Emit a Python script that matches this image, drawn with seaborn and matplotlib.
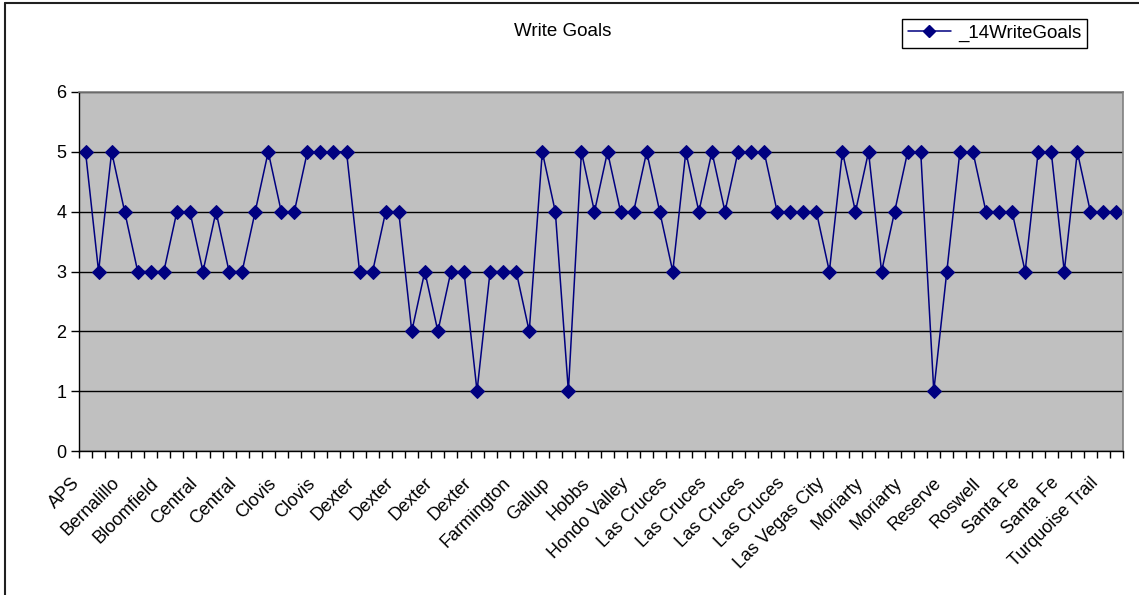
import matplotlib
matplotlib.use("Agg")
import matplotlib.pyplot as plt
from matplotlib.lines import Line2D
from matplotlib.transforms import ScaledTranslation
import pandas as pd
import seaborn as sns

# Write goals scores, one per school (80 rows)
scores = [5, 3, 5, 4, 3, 3, 3, 4, 4, 3,
          4, 3, 3, 4, 5, 4, 4, 5, 5, 5,
          5, 3, 3, 4, 4, 2, 3, 2, 3, 3,
          1, 3, 3, 3, 2, 5, 4, 1, 5, 4,
          5, 4, 4, 5, 4, 3, 5, 4, 5, 4,
          5, 5, 5, 4, 4, 4, 4, 3, 5, 4,
          5, 3, 4, 5, 5, 1, 3, 5, 5, 4,
          4, 4, 3, 5, 5, 3, 5, 4, 4, 4]

# only every third category gets a label on the axis
districts = ["APS", "Bernalillo", "Bloomfield", "Central", "Central", "Clovis",
             "Clovis", "Dexter", "Dexter", "Dexter", "Dexter", "Farmington",
             "Gallup", "Hobbs", "Hondo Valley", "Las Cruces", "Las Cruces",
             "Las Cruces", "Las Cruces", "Las Vegas City", "Moriarty",
             "Moriarty", "Reserve", "Roswell", "Santa Fe", "Santa Fe",
             "Turquoise Trail"]
label_step = 3
yticks = [0, 1, 2, 3, 4, 5, 6]

df = pd.DataFrame({"idx": range(len(scores)), "score": scores})

sns.set_style("white")
plt.rcParams["font.family"] = ["Liberation Sans", "DejaVu Sans"]
plt.rcParams["text.color"] = "black"
plt.rcParams["xtick.color"] = "black"
plt.rcParams["ytick.color"] = "black"

fig = plt.figure(figsize=(11.39, 5.95), dpi=100)
ax = fig.add_axes([79 / 1139, 1 - 451 / 595, (1123 - 79) / 1139, (451 - 92) / 595])
ax.set_facecolor("#C0C0C0")

sns.lineplot(data=df, x="idx", y="score", ax=ax, color="#000080", marker="D",
             markersize=7, markeredgecolor="#000080", linewidth=1.1,
             label="_14WriteGoals", legend=False)

ax.set_xlim(-0.5, len(scores) - 0.5)
ax.set_ylim(0, 6)
ax.set_yticks(yticks)
ax.yaxis.grid(True, color="black", linewidth=1)
ax.set_axisbelow(True)

ax.set_xticks(range(0, len(districts) * label_step, label_step))
ax.set_xticklabels(districts, rotation=45, ha="right", rotation_mode="anchor",
                   fontsize=13)
ax.set_xticks([i - 0.5 for i in range(len(scores) + 1)], minor=True)
ax.tick_params(axis="x", which="major", length=0, pad=12, labelcolor="black")
ax.tick_params(axis="x", which="minor", length=5, width=1, color="black",
               direction="out", bottom=True)
ax.tick_params(axis="y", length=6, width=1, color="black", direction="out",
               left=True, labelsize=13, pad=3, labelcolor="black")

# nudge the slanted labels down and left like the original
# (after tick_params, which resets the label transforms)
shift = ScaledTranslation(-10 / 72, -5 / 72, fig.dpi_scale_trans)
for tick in ax.xaxis.get_major_ticks():
    tick.label1.set_transform(tick.label1.get_transform() + shift)

ax.set_xlabel("")
ax.set_ylabel("")
for side in ["left", "bottom"]:
    ax.spines[side].set_color("black")
    ax.spines[side].set_linewidth(1)
for side in ["top", "right"]:
    ax.spines[side].set_color("#808080")
    ax.spines[side].set_linewidth(1.2)

fig.text(563 / 1139, 1 - 32 / 595, "Write Goals", ha="center", va="center",
         fontsize=13.5, color="black")

handle = Line2D([], [], color="#000080", marker="D", markersize=6,
                linewidth=1.1)
leg = fig.legend([handle], ["_14WriteGoals"], loc="upper right",
                 bbox_to_anchor=(1087 / 1139, 1 - 19 / 595), fontsize=13.5,
                 frameon=True, fancybox=False, framealpha=1, edgecolor="black",
                 handlelength=2.3, borderpad=0.3, handletextpad=0.4,
                 borderaxespad=0, labelcolor="black")
leg.get_frame().set_linewidth(1)

# outer chart frame (left and top edges are visible in the original)
fig.add_artist(Line2D([5 / 1139, 5 / 1139], [0, 1 - 3 / 595],
                      transform=fig.transFigure, color="#202020", linewidth=1.5))
fig.add_artist(Line2D([5 / 1139, 1], [1 - 3 / 595, 1 - 3 / 595],
                      transform=fig.transFigure, color="#202020", linewidth=1.5))

fig.savefig("out.png", dpi=100)
